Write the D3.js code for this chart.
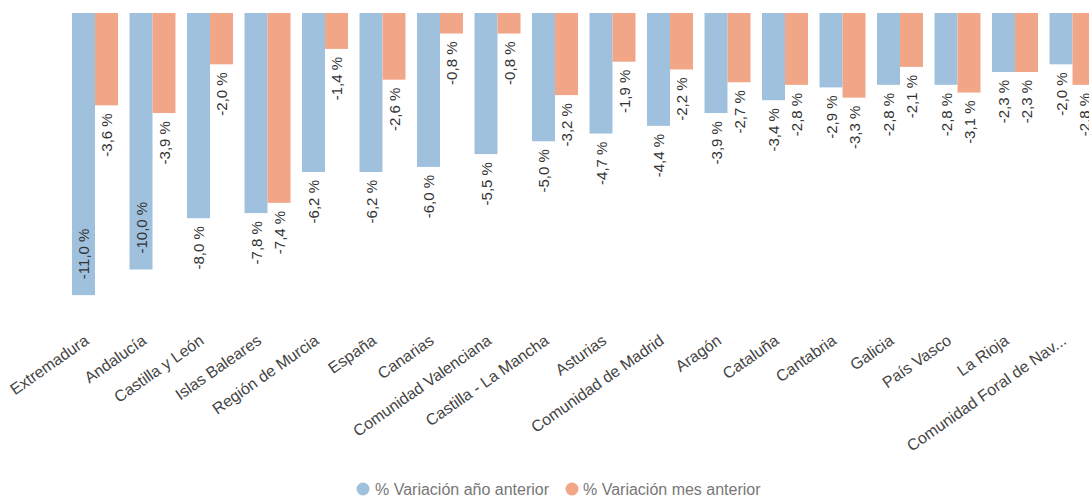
<!DOCTYPE html>
<html>
<head>
<meta charset="utf-8">
<script src="https://cdn.jsdelivr.net/npm/d3@7/dist/d3.min.js"></script>
<style>
  html, body { margin: 0; padding: 0; background: #fff; overflow: hidden; }
  svg { display: block; font-family: "Liberation Sans", Arial, sans-serif; }
</style>
</head>
<body>
<svg id="chart" width="1089" height="497"></svg>
<script>
const categories = [
  "Extremadura", "Andalucía", "Castilla y León", "Islas Baleares", "Región de Murcia",
  "España", "Canarias", "Comunidad Valenciana", "Castilla - La Mancha", "Asturias",
  "Comunidad de Madrid", "Aragón", "Cataluña", "Cantabria", "Galicia",
  "País Vasco", "La Rioja", "Comunidad Foral de Navarra"
];
const seriesNames = ["% Variación año anterior", "% Variación mes anterior"];
const variacionAnual = [-11.0, -10.0, -8.0, -7.8, -6.2, -6.2, -6.0, -5.5, -5.0, -4.7, -4.4, -3.9, -3.4, -2.9, -2.8, -2.8, -2.3, -2.0];
const variacionMensual = [-3.6, -3.9, -2.0, -7.4, -1.4, -2.6, -0.8, -0.8, -3.2, -1.9, -2.2, -2.7, -2.8, -3.3, -2.1, -3.1, -2.3, -2.8];
const colors = ["#9fc1dd", "#f1a687"];

const svg = d3.select("#chart");
const W = 1089, H = 497;

const x0 = d3.scaleBand().domain(categories).range([66.25, 1101.25]).paddingInner(0.2).paddingOuter(0.1);
const x1 = d3.scaleBand().domain(seriesNames).range([0, x0.bandwidth()]);
const y = d3.scaleLinear().domain([0, -12]).range([13, 13 + 12 * 25.65]);
const color = d3.scaleOrdinal().domain(seriesNames).range(colors);

const loc = d3.formatLocale({decimal: ",", thousands: ".", grouping: [3], currency: ["", " €"], minus: "-"});
const fmt = v => loc.format(".1f")(v) + " %";

const rows = categories.map((c, i) => ({cat: c, values: [variacionAnual[i], variacionMensual[i]]}));

const groups = svg.append("g").selectAll("g").data(rows).join("g")
  .attr("transform", d => `translate(${x0(d.cat)},0)`);

groups.selectAll("rect").data(d => d.values.map((v, j) => ({s: seriesNames[j], v})))
  .join("rect")
  .attr("x", d => x1(d.s))
  .attr("y", y(0))
  .attr("width", x1.bandwidth())
  .attr("height", d => y(d.v) - y(0))
  .attr("fill", d => color(d.s));

const plotBottom = 305;
const labelFont = 15;
groups.selectAll("text.val").data(d => d.values.map((v, j) => ({s: seriesNames[j], v})))
  .join("text")
  .attr("class", "val")
  .attr("font-size", labelFont)
  .attr("fill", "#333")
  .attr("dominant-baseline", "central")
  .text(d => fmt(d.v))
  .each(function(d) {
    const len = this.getComputedTextLength();
    const end = y(d.v);
    const cx = x1(d.s) + x1.bandwidth() / 2;
    const sel = d3.select(this);
    if (end + 8 + len > plotBottom) {
      sel.attr("text-anchor", "start")
         .attr("transform", `translate(${cx},${end - 16}) rotate(-90)`);
    } else {
      sel.attr("text-anchor", "end")
         .attr("transform", `translate(${cx},${end + 8}) rotate(-90)`);
    }
  });

// category axis labels
const shortName = s => s.length > 22 ? s.slice(0, 22) + "..." : s;
const xAxis = d3.axisBottom(x0).tickSize(0).tickPadding(0).tickFormat(shortName);
const ax = svg.append("g").attr("transform", "translate(0,343)").call(xAxis);
ax.select(".domain").remove();
ax.selectAll("text")
  .attr("font-size", 16)
  .attr("font-family", "Liberation Sans, Arial, sans-serif")
  .attr("fill", "#444")
  .attr("text-anchor", "end")
  .attr("dy", 0)
  .attr("y", 0)
  .attr("transform", "translate(-5,0) rotate(-35)");

// legend
const legend = svg.append("g");
const legendPos = [{cx: 363, tx: 375}, {cx: 572, tx: 583}];
seriesNames.forEach((s, i) => {
  legend.append("circle").attr("cx", legendPos[i].cx).attr("cy", 489).attr("r", 6.5).attr("fill", color(s));
  legend.append("text").attr("x", legendPos[i].tx).attr("y", 495).attr("font-size", 16)
    .attr("fill", "#777").text(s);
});
</script>
</body>
</html>
